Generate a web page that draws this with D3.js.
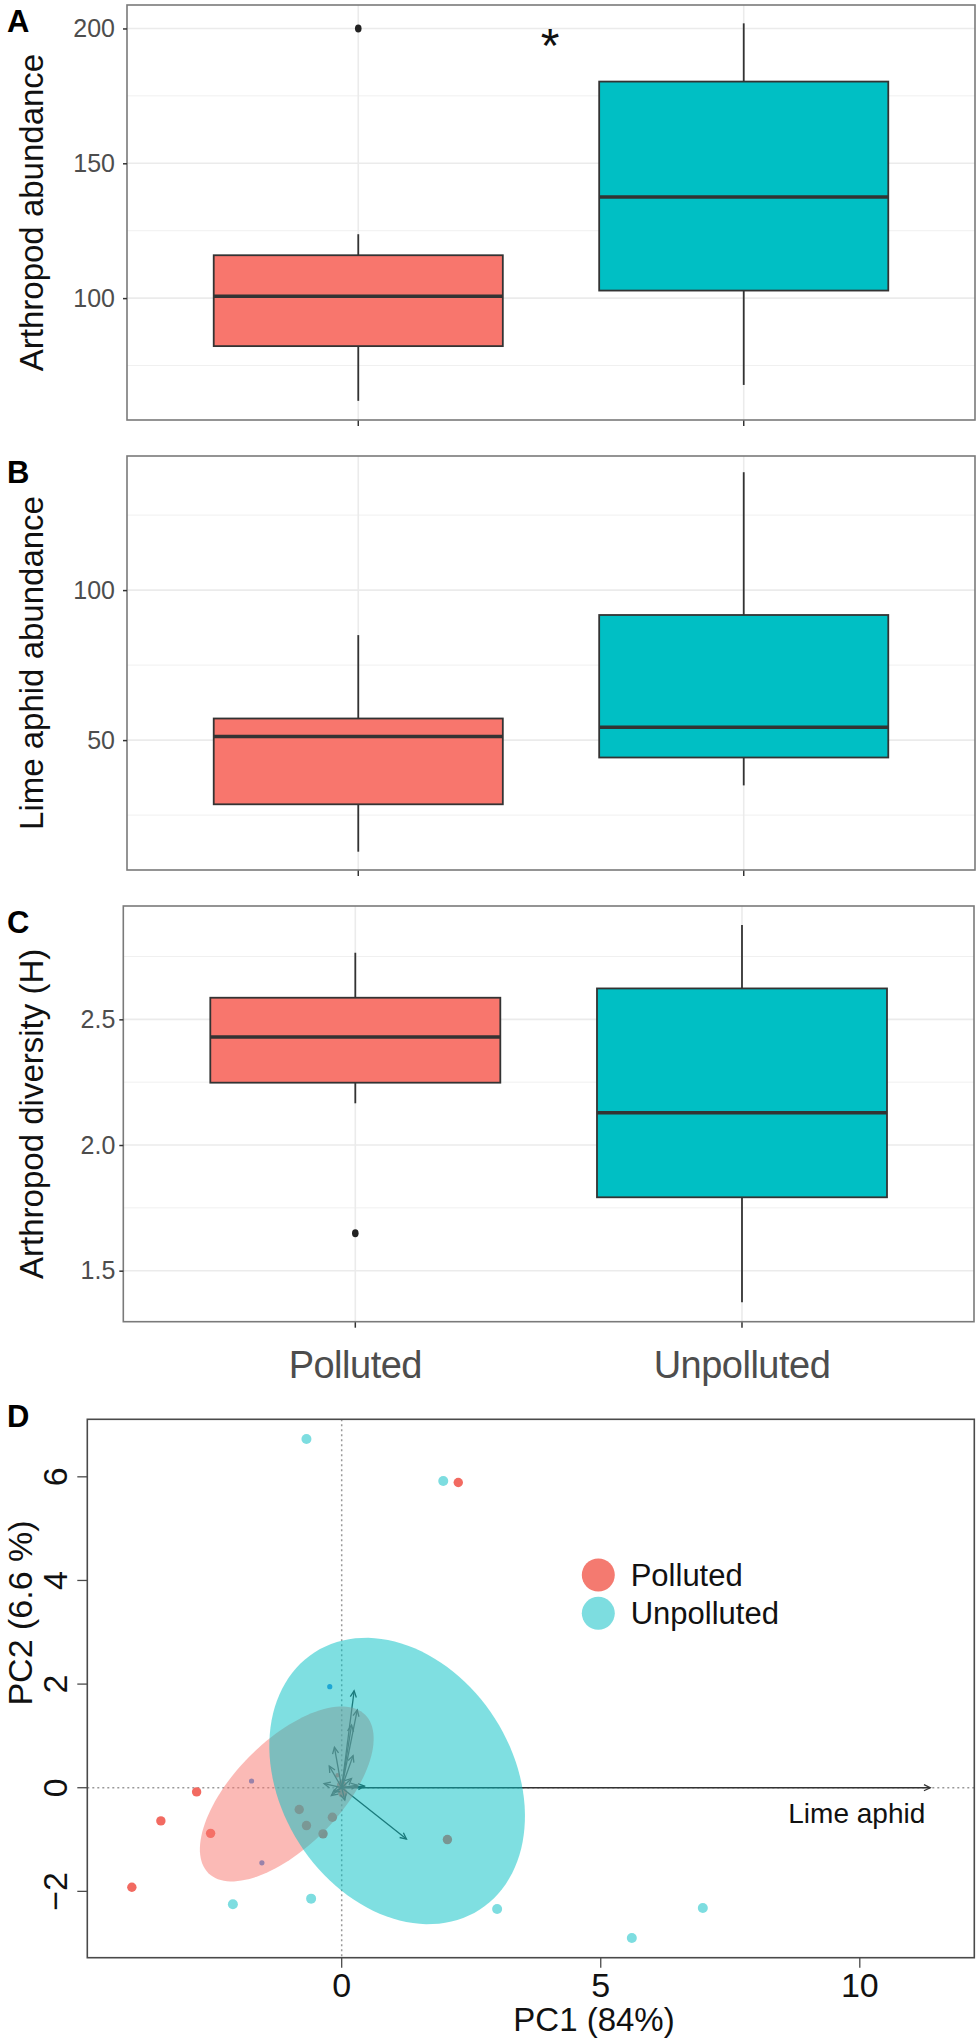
<!DOCTYPE html>
<meta charset="utf-8">
<script src="https://cdnjs.cloudflare.com/ajax/libs/d3/7.8.5/d3.min.js"></script>
<style>
  body { margin: 0; background: #fff; }
  text { font-family: "Liberation Sans", Arial, Helvetica, sans-serif; }
</style>
<div id="my_dataviz"></div>
<script>

// groups
const groups = ["Polluted", "Unpolluted"];

// boxplot stats: [lower whisker, q1, median, q3, upper whisker]
const abundStats = [[61.9, 82.2, 100.7, 115.9, 123.7], [67.8, 102.8, 137.5, 180.3, 201.9]];
const abundOutliers = [[200], []];
const abundTicks = [100, 150, 200];
const abundMinor = [75, 125, 175];

const aphidStats = [[12.8, 28.6, 51.2, 57.2, 85], [34.9, 44.2, 54.3, 91.7, 139.3]];
const aphidOutliers = [[], []];
const aphidTicks = [50, 100];
const aphidMinor = [25, 75, 125];

const divStats = [[2.166, 2.248, 2.43, 2.586, 2.765], [1.374, 1.792, 2.128, 2.623, 2.875]];
const divOutliers = [[1.649], []];
const divTicks = [1.5, 2.0, 2.5];
const divMinor = [1.75, 2.25, 2.75];

// PCA scores
const pollutedPts = [[2.25, 5.89], [-2.80, -0.08], [-3.49, -0.64], [-2.53, -0.88], [-4.05, -1.92],
  [-0.82, -0.42], [-0.18, -0.57], [-0.68, -0.73], [-0.36, -0.89], [2.04, -1.00], [0.0, 0.05], [0.02, -0.1]];
const unpollutedPts = [[-0.68, 6.73], [1.96, 5.92], [-2.10, -2.25], [-0.59, -2.14], [3.00, -2.34],
  [6.97, -2.32], [5.60, -2.90]];
const smallPts = [[-0.23, 1.95], [-1.74, 0.13], [-1.54, -1.45]];
// variable arrows (end points)
const loadings = [[11.36, 0], [0.24, 1.87], [0.30, 1.50], [0.19, 1.21], [-0.14, 0.78], [0.22, 0.62],
  [-0.24, 0.42], [-0.34, 0.08], [0.44, 0.03], [0.19, 0.18], [-0.16, -0.08], [0.06, -0.24],
  [1.25, -0.99], [0.30, 0.05], [-0.20, -0.15]];
const loadingLabels = ["Lime aphid"];
// ellipses: [cx, cy, semi-major, semi-minor, angle deg]
const pollutedEllipse = [-1.06, -0.12, 2.15, 1.02, 45.3];
const unpollutedEllipse = [1.07, 0.13, 2.95, 2.24, -57.4];
const pcTicksX = [0, 5, 10];
const pcTicksY = [-2, 0, 2, 4, 6];

const colors = ["#F8766D", "#00BFC4"];

var svg = d3.select("#my_dataviz")
  .append("svg")
  .attr("width", 980)
  .attr("height", 2044);

// one boxplot panel
function boxPanel(p) {
  // ggplot discrete scale: 0.6 expansion each side
  var xc = d3.scaleLinear().domain([0.4, 2.6]).range([p.left, p.right]);
  var bw = xc(1.375) - xc(1);
  var y = d3.scaleLinear().domain(p.domain).range([p.bottom, p.top]);
  var g = svg.append("g");

  // grid
  g.selectAll(".minor").data(p.minor).join("line")
    .attr("x1", p.left).attr("x2", p.right)
    .attr("y1", d => y(d)).attr("y2", d => y(d))
    .attr("stroke", "#f0f0f0").attr("stroke-width", 1);
  g.selectAll(".major").data(p.ticks).join("line")
    .attr("x1", p.left).attr("x2", p.right)
    .attr("y1", d => y(d)).attr("y2", d => y(d))
    .attr("stroke", "#ebebeb").attr("stroke-width", 1.6);
  g.selectAll(".vmajor").data(groups).join("line")
    .attr("x1", (d, i) => xc(i + 1)).attr("x2", (d, i) => xc(i + 1))
    .attr("y1", p.top).attr("y2", p.bottom)
    .attr("stroke", "#ebebeb").attr("stroke-width", 1.6);

  p.stats.forEach(function (s, i) {
    var cx = xc(i + 1);
    // whiskers
    g.append("line").attr("x1", cx).attr("x2", cx).attr("y1", y(s[0])).attr("y2", y(s[1]))
      .attr("stroke", "#333").attr("stroke-width", 1.8);
    g.append("line").attr("x1", cx).attr("x2", cx).attr("y1", y(s[3])).attr("y2", y(s[4]))
      .attr("stroke", "#333").attr("stroke-width", 1.8);
    // box + median
    g.append("rect").attr("x", cx - bw).attr("width", 2 * bw)
      .attr("y", y(s[3])).attr("height", y(s[1]) - y(s[3]))
      .attr("fill", colors[i]).attr("stroke", "#333").attr("stroke-width", 1.8);
    g.append("line").attr("x1", cx - bw).attr("x2", cx + bw).attr("y1", y(s[2])).attr("y2", y(s[2]))
      .attr("stroke", "#333").attr("stroke-width", 3.5);
    p.outliers[i].forEach(function (o) {
      g.append("ellipse").attr("cx", cx).attr("cy", y(o)).attr("rx", 3.3).attr("ry", 4)
        .attr("fill", "#222");
    });
    // x tick
    g.append("line").attr("x1", cx).attr("x2", cx).attr("y1", p.bottom).attr("y2", p.bottom + 6)
      .attr("stroke", "#333").attr("stroke-width", 1.5);
  });

  // border
  g.append("rect").attr("x", p.left).attr("y", p.top)
    .attr("width", p.right - p.left).attr("height", p.bottom - p.top)
    .attr("fill", "none").attr("stroke", "#7a7a7a").attr("stroke-width", 1.6);

  // y axis
  var ax = g.append("g").attr("transform", "translate(" + p.left + ",0)")
    .call(d3.axisLeft(y).tickValues(p.ticks).tickSize(4).tickPadding(p.pad)
      .tickFormat(p.fmt));
  ax.select(".domain").remove();
  ax.selectAll("line").attr("stroke", "#333").attr("stroke-width", 1.5);
  ax.selectAll("text").attr("fill", "#4d4d4d").style("font-size", "25px");

  // title + panel letter
  svg.append("text")
    .attr("transform", "translate(43," + ((p.top + p.bottom) / 2) + ") rotate(-90)")
    .attr("text-anchor", "middle").style("font-size", "33px").attr("fill", "#111")
    .text(p.title);
  svg.append("text").attr("x", 7).attr("y", p.top + 27)
    .style("font-size", "31px").style("font-weight", "bold").text(p.letter);
  return { xc: xc, y: y };
}

var pA = boxPanel({ left: 127, right: 975, top: 5, bottom: 420, domain: [54.8, 208.7],
  stats: abundStats, outliers: abundOutliers, ticks: abundTicks, minor: abundMinor, pad: 8,
  fmt: d3.format("d"), title: "Arthropod abundance", letter: "A" });
var pB = boxPanel({ left: 127, right: 975, top: 456, bottom: 870, domain: [6.7, 144.7],
  stats: aphidStats, outliers: aphidOutliers, ticks: aphidTicks, minor: aphidMinor, pad: 8,
  fmt: d3.format("d"), title: "Lime aphid abundance", letter: "B" });
var pC = boxPanel({ left: 123.3, right: 974, top: 906, bottom: 1321.7, domain: [1.297, 2.951],
  stats: divStats, outliers: divOutliers, ticks: divTicks, minor: divMinor, pad: 4,
  fmt: d3.format(".1f"), title: "Arthropod diversity (H)", letter: "C" });

// asterisk
svg.append("text").attr("x", 550).attr("y", 62).attr("text-anchor", "middle")
  .style("font-size", "48px").attr("fill", "#111").text("*");

// x labels below C
svg.selectAll(".xlab").data(groups).join("text")
  .attr("x", (d, i) => pC.xc(i + 1)).attr("y", 1378)
  .attr("text-anchor", "middle").style("font-size", "38px").style("letter-spacing", "-0.5px")
  .attr("fill", "#4d4d4d").text(d => d);

// ---------- Panel D: PCA biplot ----------
var dL = 87.3, dR = 974.3, dT = 1419.3, dB = 1957.7;
var px = d3.scaleLinear().domain([-4.91, 12.21]).range([dL, dR]);
var py = d3.scaleLinear().domain([-3.28, 7.11]).range([dB, dT]);
var gd = svg.append("g");

gd.append("text").attr("x", 7).attr("y", dT + 8)
  .style("font-size", "31px").style("font-weight", "bold").text("D");

// dotted reference lines
gd.append("line").attr("x1", px(0)).attr("x2", px(0)).attr("y1", dT).attr("y2", dB)
  .attr("stroke", "#999").attr("stroke-width", 1.5).attr("stroke-dasharray", "2,3");
gd.append("line").attr("x1", dL).attr("x2", dR).attr("y1", py(0)).attr("y2", py(0))
  .attr("stroke", "#999").attr("stroke-width", 1.5).attr("stroke-dasharray", "2,3");

// points
gd.selectAll(".pp").data(pollutedPts).join("circle")
  .attr("cx", d => px(d[0])).attr("cy", d => py(d[1])).attr("r", 4.7).attr("fill", "#f26a61");
gd.selectAll(".up").data(unpollutedPts).join("circle")
  .attr("cx", d => px(d[0])).attr("cy", d => py(d[1])).attr("r", 5).attr("fill", "#7ddde0");
gd.selectAll(".sp").data(smallPts).join("circle")
  .attr("cx", d => px(d[0])).attr("cy", d => py(d[1])).attr("r", 2.6).attr("fill", "#3a8ee6");
gd.append("circle").attr("cx", px(-0.08)).attr("cy", py(0.24)).attr("r", 2.2).attr("fill", "#f26a61");

// arrows
loadings.forEach(function (d) {
  var x0 = px(0), y0 = py(0), x1 = px(d[0]), y1 = py(d[1]);
  var ang = Math.atan2(y1 - y0, x1 - x0), h = 7, w = Math.PI / 7;
  gd.append("line").attr("x1", x0).attr("y1", y0).attr("x2", x1).attr("y2", y1)
    .attr("stroke", "#333").attr("stroke-width", 1.3);
  gd.append("path")
    .attr("d", "M" + (x1 - h * Math.cos(ang - w)) + "," + (y1 - h * Math.sin(ang - w)) +
      "L" + x1 + "," + y1 +
      "L" + (x1 - h * Math.cos(ang + w)) + "," + (y1 - h * Math.sin(ang + w)))
    .attr("fill", "none").attr("stroke", "#333").attr("stroke-width", 1.3);
});

// confidence ellipses (drawn over points and arrows)
function ellipsePath(e) {
  var th = e[4] * Math.PI / 180;
  var pts = d3.range(0, 361, 3).map(function (t) {
    var r = t * Math.PI / 180;
    var ex = e[2] * Math.cos(r), ey = e[3] * Math.sin(r);
    return [e[0] + ex * Math.cos(th) - ey * Math.sin(th), e[1] + ex * Math.sin(th) + ey * Math.cos(th)];
  });
  return d3.line().x(d => px(d[0])).y(d => py(d[1])).curve(d3.curveLinearClosed)(pts);
}
gd.append("path").attr("d", ellipsePath(pollutedEllipse)).attr("fill", colors[0]).attr("fill-opacity", 0.5);
gd.append("path").attr("d", ellipsePath(unpollutedEllipse)).attr("fill", colors[1]).attr("fill-opacity", 0.5);

// arrow label
gd.append("text").attr("x", px(loadings[0][0]) - 5).attr("y", py(0) + 35)
  .attr("text-anchor", "end").style("font-size", "28px").attr("fill", "#111").text(loadingLabels[0]);

// border
gd.append("rect").attr("x", dL).attr("y", dT).attr("width", dR - dL).attr("height", dB - dT)
  .attr("fill", "none").attr("stroke", "#4a4a4a").attr("stroke-width", 1.6);

// axes
gd.selectAll(".xt").data(pcTicksX).join("line")
  .attr("x1", d => px(d)).attr("x2", d => px(d)).attr("y1", dB).attr("y2", dB + 10)
  .attr("stroke", "#4a4a4a").attr("stroke-width", 1.3);
gd.selectAll(".xtl").data(pcTicksX).join("text")
  .attr("x", d => px(d)).attr("y", 1997).attr("text-anchor", "middle")
  .style("font-size", "34px").attr("fill", "#111").text(d => d);
gd.selectAll(".yt").data(pcTicksY).join("line")
  .attr("x1", dL - 10).attr("x2", dL).attr("y1", d => py(d)).attr("y2", d => py(d))
  .attr("stroke", "#4a4a4a").attr("stroke-width", 1.3);
gd.selectAll(".ytl").data(pcTicksY).join("text")
  .attr("transform", d => "translate(66.7," + py(d) + ") rotate(-90)")
  .attr("text-anchor", "middle").style("font-size", "34px").attr("fill", "#111")
  .text(d => d < 0 ? "\u2212" + Math.abs(d) : d);

gd.append("text").attr("x", 594).attr("y", 2031).attr("text-anchor", "middle")
  .style("font-size", "33px").attr("fill", "#111").text("PC1 (84%)");
gd.append("text").attr("transform", "translate(32,1613) rotate(-90)").attr("text-anchor", "middle")
  .style("font-size", "34px").attr("fill", "#111").text("PC2 (6.6 %)");

// legend
var legColors = ["#f47a70", "#7ddde0"];
gd.selectAll(".lg").data(groups).join("circle")
  .attr("cx", 598.3).attr("cy", (d, i) => 1575 + i * 38.3).attr("r", 16.5)
  .attr("fill", (d, i) => legColors[i]);
gd.selectAll(".lgt").data(groups).join("text")
  .attr("x", 630.7).attr("y", (d, i) => 1586 + i * 38.3)
  .style("font-size", "31px").attr("fill", "#111").text(d => d);

</script>
